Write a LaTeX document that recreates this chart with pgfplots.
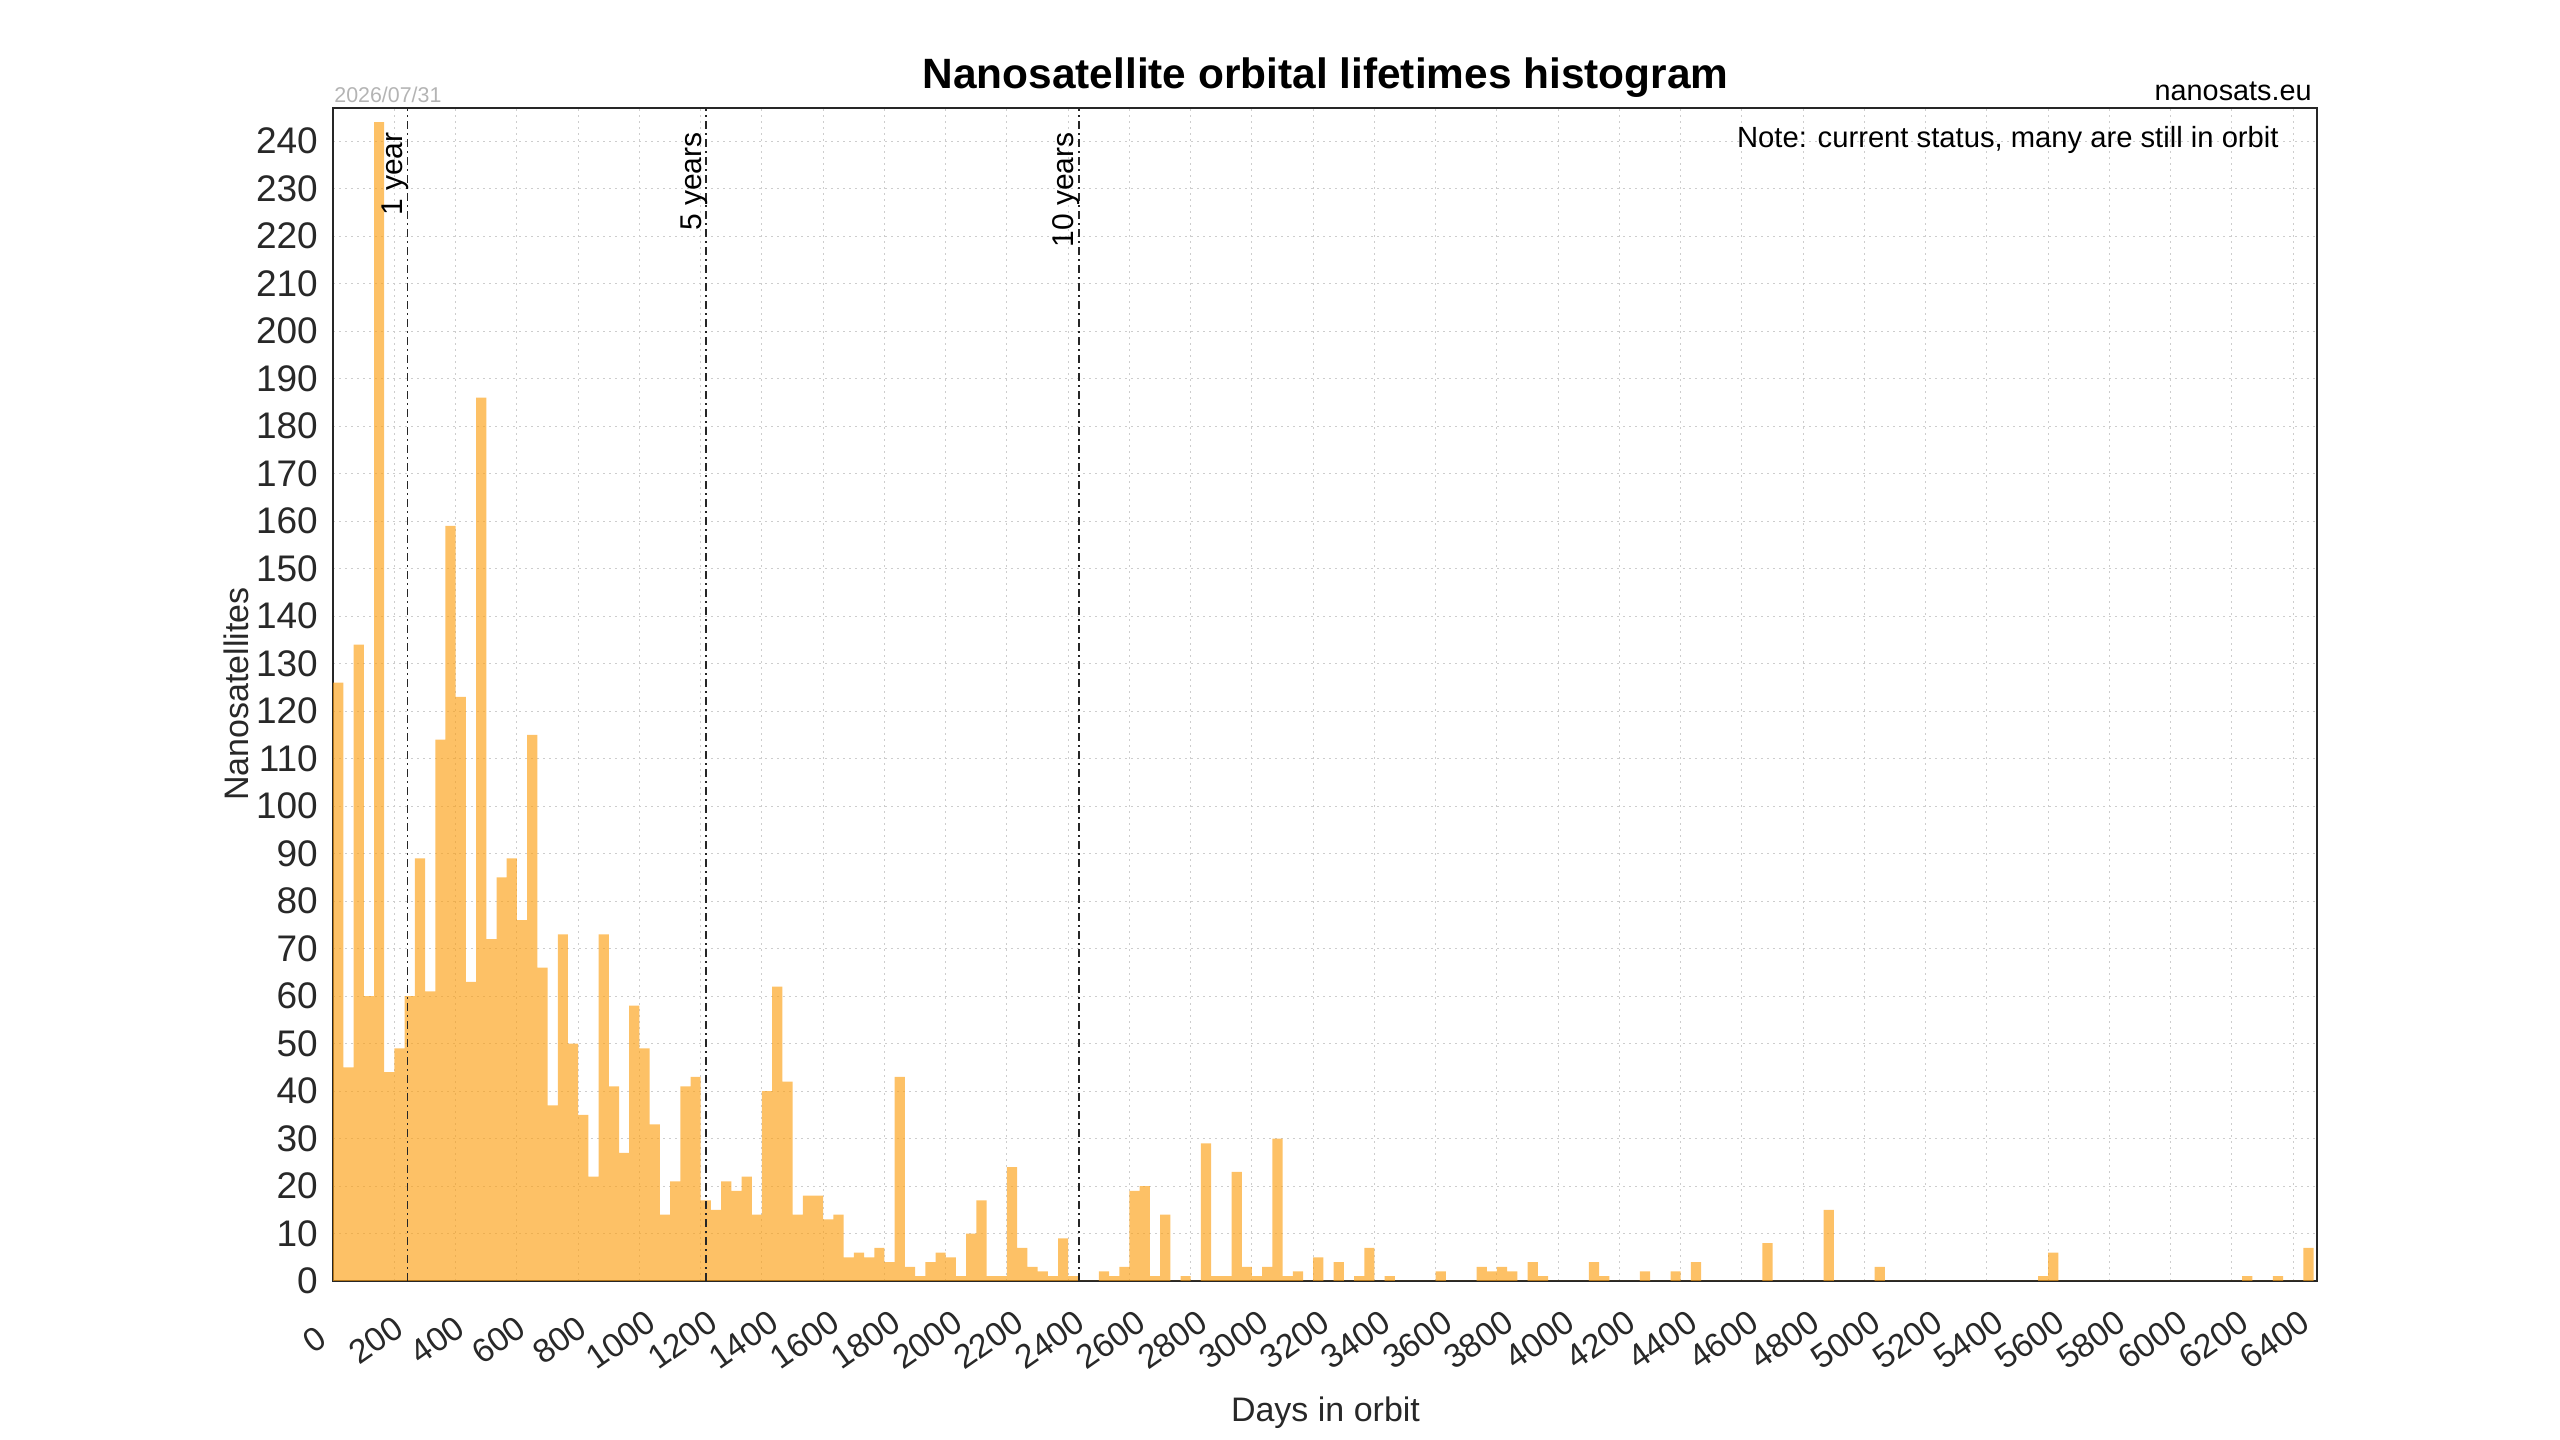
\documentclass[border=0pt]{standalone}
\usepackage{fontspec}
\setmainfont{Liberation Sans}
\usepackage{pgfplots}
\usepackage{pgfplotstable}
\pgfplotsset{compat=1.18}
\definecolor{barc}{RGB}{252,160,20}
\definecolor{tickc}{RGB}{40,40,40}
\definecolor{gridc}{RGB}{205,205,205}
\definecolor{framec}{RGB}{38,38,38}
\definecolor{datec}{RGB}{180,180,180}

% bin index (each bin = 1/6 of a 200 tick step), count
\pgfplotstableread{
bin n
0 126
1 45
2 134
3 60
4 244
5 44
6 49
7 60
8 89
9 61
10 114
11 159
12 123
13 63
14 186
15 72
16 85
17 89
18 76
19 115
20 66
21 37
22 73
23 50
24 35
25 22
26 73
27 41
28 27
29 58
30 49
31 33
32 14
33 21
34 41
35 43
36 17
37 15
38 21
39 19
40 22
41 14
42 40
43 62
44 42
45 14
46 18
47 18
48 13
49 14
50 5
51 6
52 5
53 7
54 4
55 43
56 3
57 1
58 4
59 6
60 5
61 1
62 10
63 17
64 1
65 1
66 24
67 7
68 3
69 2
70 1
71 9
72 1
73 0
74 0
75 2
76 1
77 3
78 19
79 20
80 1
81 14
82 0
83 1
84 0
85 29
86 1
87 1
88 23
89 3
90 1
91 3
92 30
93 1
94 2
95 0
96 5
97 0
98 4
99 0
100 1
101 7
102 0
103 1
104 0
105 0
106 0
107 0
108 2
109 0
110 0
111 0
112 3
113 2
114 3
115 2
116 0
117 4
118 1
119 0
120 0
121 0
122 0
123 4
124 1
125 0
126 0
127 0
128 2
129 0
130 0
131 2
132 0
133 4
134 0
135 0
136 0
137 0
138 0
139 0
140 8
141 0
142 0
143 0
144 0
145 0
146 15
147 0
148 0
149 0
150 0
151 3
152 0
153 0
154 0
155 0
156 0
157 0
158 0
159 0
160 0
161 0
162 0
163 0
164 0
165 0
166 0
167 1
168 6
169 0
170 0
171 0
172 0
173 0
174 0
175 0
176 0
177 0
178 0
179 0
180 0
181 0
182 0
183 0
184 0
185 0
186 0
187 1
188 0
189 0
190 1
191 0
192 0
193 7
194 0
}\hist

\begin{document}
\begin{tikzpicture}[x=1pt,y=1pt]
\useasboundingbox (0,0) rectangle (1280,720);
\begin{axis}[
  at={(166.6pt,79.5pt)}, anchor=south west,
  scale only axis, width=991.9pt, height=586.5pt,
  xmin=0, xmax=194.33, ymin=0, ymax=247,
  xtick={0,6,...,192},
  xticklabels={0,200,400,600,800,1000,1200,1400,1600,1800,2000,2200,2400,2600,2800,3000,3200,3400,3600,3800,4000,4200,4400,4600,4800,5000,5200,5400,5600,5800,6000,6200,6400},
  ytick={0,10,...,240},
  scaled ticks=false,
  /pgf/number format/.cd, 1000 sep={}, assume math mode=true, /pgfplots/.cd,
  major tick length=0pt,
  grid=major,
  major grid style={color=gridc, line width=0.5pt, dash pattern=on 1pt off 2pt},
  axis line style={color=framec, line width=0.9pt},
  tick label style={text=tickc},
  yticklabel style={font=\fontsize{18.5}{21}\selectfont, xshift=-7.5pt, anchor=east, inner sep=0pt},
  xticklabel style={font=\fontsize{16.8}{19}\selectfont, xshift=-9.25pt, yshift=-29.5pt, rotate=35, anchor=center, inner sep=0pt},
]
\addplot[ybar interval, fill=barc, fill opacity=0.65, draw=none] table[x=bin,y=n]{\hist};
\foreach \xx in {7.305, 36.525, 73.05}{
  \edef\tmp{\noexpand\draw[color=framec, line width=0.6pt, dash pattern=on 4pt off 2pt on 1pt off 2pt] (axis cs:\xx,0) -- (axis cs:\xx,247);}
  \tmp
}
\node[rotate=90, anchor=base east, inner sep=0pt, font=\fontsize{15}{17}\selectfont] at ([xshift=-2.5pt]axis cs:7.305,241.9) {1 year};
\node[rotate=90, anchor=base east, inner sep=0pt, font=\fontsize{15}{17}\selectfont] at ([xshift=-2.5pt]axis cs:36.525,241.9) {5 years};
\node[rotate=90, anchor=base east, inner sep=0pt, font=\fontsize{15}{17}\selectfont] at ([xshift=-2.5pt]axis cs:73.05,241.9) {10 years};
\end{axis}
\node[anchor=base, inner sep=0pt, font=\bfseries\fontsize{21.2}{24}\selectfont] at (662.75,675.5) {Nanosatellite orbital lifetimes histogram};
\node[anchor=base west, inner sep=0pt, text=datec, font=\fontsize{10.7}{12}\selectfont] at (167,668.5) {2026/07/31};
\node[anchor=base east, inner sep=0pt, font=\fontsize{14.4}{16}\selectfont] at (1156,669.6) {nanosats.eu};
\node[anchor=base east, inner sep=0pt, font=\fontsize{14.6}{16}\selectfont] at (1139.5,646) {Note: current status, many are still in orbit};
\node[anchor=base, inner sep=0pt, text=tickc, font=\fontsize{17}{19}\selectfont] at (662.75,9) {Days in orbit};
\node[anchor=center, rotate=90, inner sep=0pt, text=tickc, font=\fontsize{17}{19}\selectfont] at (118,373) {Nanosatellites};
\end{tikzpicture}
\end{document}
